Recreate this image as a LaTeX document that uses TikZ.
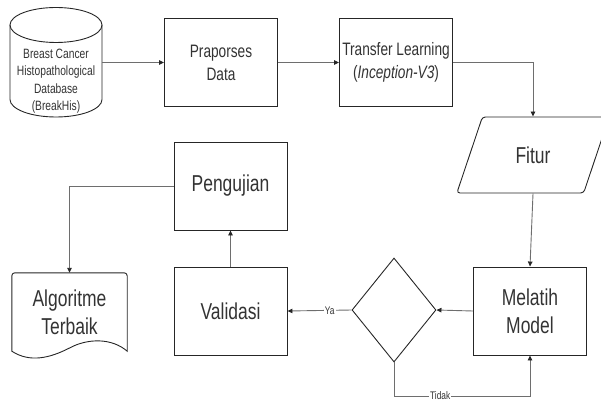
\documentclass[tikz,border=0pt]{standalone}
\usepackage{fontspec}
\setmainfont{Liberation Sans}[FakeStretch=0.76]
\usetikzlibrary{shapes.geometric,arrows.meta}
\definecolor{txtgray}{HTML}{333333}
\definecolor{linegray}{HTML}{6E6E6E}
\tikzset{
  box/.style={rectangle,draw=black!85,line width=0.9pt,minimum width=113pt,minimum height=88pt,inner sep=2pt,align=center,text=txtgray},
  outline/.style={draw=black!85,line width=0.9pt},
  big/.style={font=\fontsize{23}{28}\selectfont},
  mid/.style={font=\fontsize{18}{23}\selectfont},
  small/.style={font=\fontsize{13.5}{17.5}\selectfont},
  lbl/.style={font=\fontsize{11}{12}\selectfont,fill=white,inner sep=1pt,text=txtgray},
  conn/.style={draw=linegray,line width=0.9pt,-{Triangle[length=5pt,width=4.5pt,color=black!85]}},
}
\begin{document}
\begin{tikzpicture}[x=1pt,y=-1pt]
\useasboundingbox (0,0) rectangle (601,403);
\clip (0,0) rectangle (601,403);
% top row
\node [minimum width=92pt,minimum height=109pt,inner sep=0pt] (db) at (56,62.5) {};
\draw [outline] (56,25) ellipse [x radius=46,y radius=17.5];
\draw [outline] (10,25) -- (10,99.5) arc [start angle=180,end angle=0,x radius=46,y radius=17.5] -- (102,25);
\node [align=center,text=txtgray,small] (dbtext) at (56,81) {Breast Cancer\\Histopathological\\Database\\(BreakHis)};
\node [box,mid] (prep) at (221,62.5) {Praporses\\Data};
\node [box,mid] (tl) at (396,62.5) {Transfer Learning\\(\textit{Inception-V3})};
\node [trapezium,trapezium left angle=66,trapezium right angle=114,trapezium stretches=true,outline,rounded corners=3pt,minimum width=153pt,minimum height=76pt,text=txtgray,big] (fitur) at (533,155) {Fitur};
% bottom row
\node [box,big] (latih) at (530,311) {Melatih\\Model};
\node [diamond,outline,minimum width=84pt,minimum height=104pt,inner sep=0pt] (dec) at (394,310) {};
\node [box,big] (val) at (230.5,311) {Validasi};
\node [box,big] (peng) at (230.5,186) {Pengujian};
\node [minimum width=115pt,minimum height=78pt,inner sep=0pt,align=center,text=txtgray,big] (algo) at (69.5,312) {Algoritme\\Terbaik};
\draw [outline] (algo.south west) [rounded corners=3pt] -- (algo.north west) -- (algo.north east) [sharp corners] -- (algo.south east)
  .. controls (112,338) and (88,338) .. (69.5,348) .. controls (50,358) and (30,363) .. (algo.south west) -- cycle;
\coordinate (bend) at (dec.south |- 0,396);
% connectors
\draw [conn] (db.east) -- (prep.west);
\draw [conn] (prep.east) -- (tl.west);
\draw [conn] (tl.east) -| (fitur.north);
\draw [conn] (fitur.south) -- (latih.north);
\draw [conn] (latih.west) -- (dec.east);
\draw [conn] (dec.west) -- (val.east) node [lbl,pos=0.34] {Ya};
\draw [conn] (dec.south) -- (bend) -| (latih.south) node [lbl,pos=0.17] {Tidak};
\draw [conn] (val.north) -- (peng.south);
\draw [conn] (peng.west) -| (algo.north);
\end{tikzpicture}
\end{document}
